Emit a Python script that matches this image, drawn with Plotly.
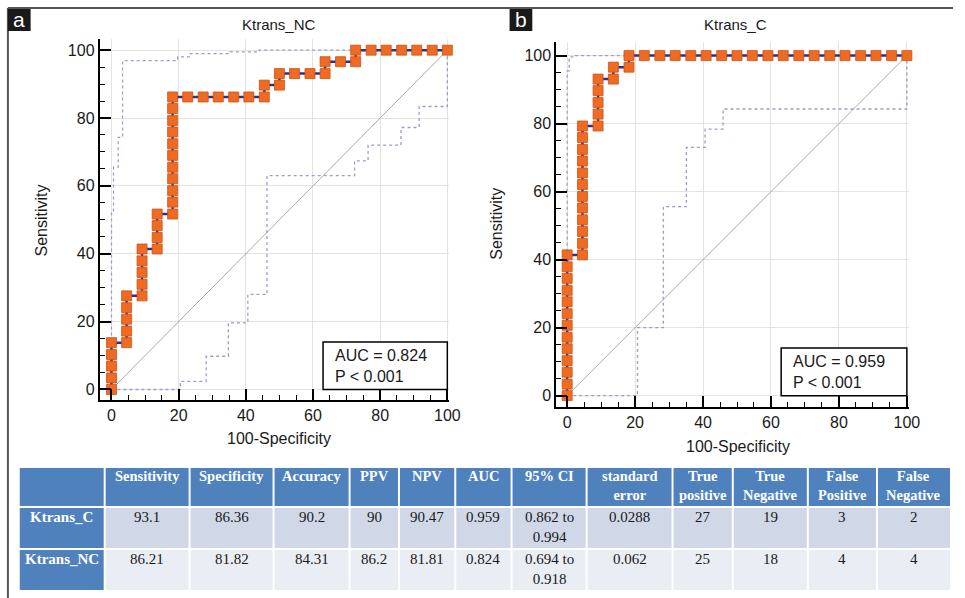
import plotly.graph_objects as go

W, H = 965, 598

# ---------------- Panel a: Ktrans_NC ----------------
nc_fpr = [0, 0, 0, 0, 0,
          4.5, 4.5, 4.5, 4.5, 4.5,
          9.1, 9.1, 9.1, 9.1, 9.1,
          13.6, 13.6, 13.6, 13.6,
          18.2, 18.2, 18.2, 18.2, 18.2, 18.2, 18.2, 18.2, 18.2, 18.2, 18.2,
          22.7, 27.3, 31.8, 36.4, 40.9, 45.5,
          45.5, 50.0,
          50.0, 54.5, 59.1, 63.6,
          63.6, 68.2, 72.7,
          72.7, 77.3, 81.8, 86.4, 90.9, 95.5, 100]
nc_tpr = [0, 3.4, 6.9, 10.3, 13.8,
          13.8, 17.2, 20.7, 24.1, 27.6,
          27.6, 31.0, 34.5, 37.9, 41.4,
          41.4, 44.8, 48.3, 51.7,
          51.7, 55.2, 58.6, 62.1, 65.5, 69.0, 72.4, 75.9, 79.3, 82.8, 86.2,
          86.2, 86.2, 86.2, 86.2, 86.2, 86.2,
          89.7, 89.7,
          93.1, 93.1, 93.1, 93.1,
          96.6, 96.6, 96.6,
          100, 100, 100, 100, 100, 100, 100]
nc_upper_x = [0, 0, 0.6, 0.6, 2.0, 2.0, 3.3, 3.3, 19.7, 19.7, 23.5, 23.5, 35.3, 35.3, 44.0, 44.0, 100]
nc_upper_y = [0, 52.2, 52.2, 65.5, 65.5, 74.3, 74.3, 96.9, 96.9, 98.0, 98.0, 99.0, 99.0, 99.5, 99.5, 100, 100]
nc_lower_x = [0, 20.5, 20.5, 28.2, 28.2, 34.8, 34.8, 40.6, 40.6, 46.3, 46.3, 72.4, 72.4, 76.4, 76.4, 86.2, 86.2, 91.6, 91.6, 100, 100]
nc_lower_y = [0, 0, 2.4, 2.4, 9.8, 9.8, 19.6, 19.6, 28.0, 28.0, 63.0, 63.0, 67.4, 67.4, 72.0, 72.0, 77.2, 77.2, 83.4, 83.4, 100]

# ---------------- Panel b: Ktrans_C ----------------
c_fpr = [0, 0, 0, 0, 0, 0, 0, 0, 0, 0, 0, 0, 0,
         4.5, 4.5, 4.5, 4.5, 4.5, 4.5, 4.5, 4.5, 4.5, 4.5, 4.5, 4.5,
         9.1, 9.1, 9.1, 9.1, 9.1,
         13.6, 13.6,
         18.2, 18.2,
         22.7, 27.3, 31.8, 36.4, 40.9, 45.5, 50.0, 54.5, 59.1, 63.6, 68.2, 72.7, 77.3, 81.8, 86.4, 90.9, 95.5, 100]
c_tpr = [0, 3.4, 6.9, 10.3, 13.8, 17.2, 20.7, 24.1, 27.6, 31.0, 34.5, 37.9, 41.4,
         41.4, 44.8, 48.3, 51.7, 55.2, 58.6, 62.1, 65.5, 69.0, 72.4, 75.9, 79.3,
         79.3, 82.8, 86.2, 89.7, 93.1,
         93.1, 96.6,
         96.6, 100,
         100, 100, 100, 100, 100, 100, 100, 100, 100, 100, 100, 100, 100, 100, 100, 100, 100, 100]
c_upper_x = [0, 0, 0.6, 0.6, 2.5, 2.5, 100]
c_upper_y = [0, 95.5, 95.5, 99.6, 99.6, 100, 100]
c_lower_x = [0, 20.7, 20.7, 28.3, 28.3, 35.1, 35.1, 40.6, 40.6, 45.9, 45.9, 100, 100]
c_lower_y = [0, 0, 20.0, 20.0, 55.6, 55.6, 73.0, 73.0, 78.4, 78.4, 84.3, 84.3, 100]

diag = [0, 100]

# ---------------- Table ----------------
row_names = ["Ktrans_C", "Ktrans_NC"]
col_headers = ["", "Sensitivity", "Specificity", "Accuracy", "PPV", "NPV", "AUC", "95% CI",
               "standard<br>error", "True<br>positive", "True<br>Negative", "False<br>Positive", "False<br>Negative"]
sensitivity = ["93.1", "86.21"]
specificity = ["86.36", "81.82"]
accuracy = ["90.2", "84.31"]
ppv = ["90", "86.2"]
npv = ["90.47", "81.81"]
auc = ["0.959", "0.824"]
ci95 = ["0.862 to<br>0.994", "0.694 to<br>0.918"]
std_err = ["0.0288", "0.062"]
true_pos = ["27", "25"]
true_neg = ["19", "18"]
false_pos = ["3", "4"]
false_neg = ["2", "4"]
p_value = "P < 0.001"

NAVY = "#2E2E8A"
ORANGE = "#F06A22"
CI_COL = "#9A9DCB"
GRID = "#E3E3E3"


def px_x(p):
    return p / W


def px_y(p):
    return 1 - p / H


fig = go.Figure()


def add_panel(fpr, tpr, ux, uy, lx, ly, xa, ya):
    fig.add_trace(go.Scatter(x=diag, y=diag, mode="lines", line=dict(color="#A8A8A8", width=1),
                             xaxis=xa, yaxis=ya, hoverinfo="skip", showlegend=False))
    fig.add_trace(go.Scatter(x=ux, y=uy, mode="lines", line=dict(color=CI_COL, width=1.3, dash="dot"),
                             xaxis=xa, yaxis=ya, showlegend=False, cliponaxis=False))
    fig.add_trace(go.Scatter(x=lx, y=ly, mode="lines", line=dict(color=CI_COL, width=1.3, dash="dot"),
                             xaxis=xa, yaxis=ya, showlegend=False, cliponaxis=False))
    fig.add_trace(go.Scatter(x=fpr, y=tpr, mode="lines+markers",
                             line=dict(color=NAVY, width=2.5),
                             marker=dict(symbol="square", size=10, color=ORANGE,
                                         line=dict(color="#C8541C", width=0.8)),
                             xaxis=xa, yaxis=ya, showlegend=False, cliponaxis=False))


add_panel(nc_fpr, nc_tpr, nc_upper_x, nc_upper_y, nc_lower_x, nc_lower_y, "x", "y")
add_panel(c_fpr, c_tpr, c_upper_x, c_upper_y, c_lower_x, c_lower_y, "x2", "y2")

axis_common = dict(
    showline=True, linecolor="black", linewidth=2, mirror=False,
    ticks="inside", ticklen=11, tickwidth=2, tickcolor="black",
    tickmode="linear", tick0=0, dtick=20,
    showgrid=True, gridcolor=GRID, gridwidth=1, zeroline=False,
    tickfont=dict(family="Liberation Sans", size=16, color="#1a1a1a"),
    minor=dict(ticks="inside", ticklen=5, tickwidth=1, tickcolor="black", dtick=5, tick0=0, showgrid=False),
    fixedrange=True,
)

fig.update_layout(
    width=W, height=H, autosize=False,
    margin=dict(l=0, r=0, t=0, b=0),
    paper_bgcolor="white", plot_bgcolor="white",
    showlegend=False,
    xaxis=dict(axis_common, domain=[px_x(101), px_x(455)], range=[-3.5, 100.6], anchor="y"),
    yaxis=dict(axis_common, domain=[px_y(400), px_y(39.3)], range=[-3.1, 103.2], anchor="x"),
    xaxis2=dict(axis_common, domain=[px_x(563.3), px_x(920)], range=[-3.2, 100.5], anchor="y2"),
    yaxis2=dict(axis_common, domain=[px_y(406.7), px_y(42)], range=[-3.24, 104.0], anchor="x2"),
)

shapes = [
    # outer frame (top and left)
    dict(type="line", xref="paper", yref="paper", x0=px_x(8), x1=1, y0=px_y(8), y1=px_y(8),
         line=dict(color="#555555", width=2)),
    dict(type="line", xref="paper", yref="paper", x0=px_x(8), x1=px_x(8), y0=px_y(8), y1=0,
         line=dict(color="#555555", width=2)),
    # panel label boxes
    dict(type="rect", xref="paper", yref="paper", x0=px_x(8), x1=px_x(31), y0=px_y(31), y1=px_y(9),
         fillcolor="#1a1a1a", line=dict(width=0)),
    dict(type="rect", xref="paper", yref="paper", x0=px_x(516), x1=px_x(539), y0=px_y(31), y1=px_y(9),
         fillcolor="#1a1a1a", line=dict(width=0)),
    # AUC boxes
    dict(type="rect", xref="x", yref="y", x0=63, x1=100, y0=0, y1=14,
         fillcolor="white", line=dict(color="black", width=1.5)),
    dict(type="rect", xref="x2", yref="y2", x0=63, x1=100, y0=0, y1=14,
         fillcolor="white", line=dict(color="black", width=1.5)),
]

SANS = "Liberation Sans"
SERIF = "Liberation Serif"
ann = []


def text(x, y, s, size, color="#1a1a1a", family=SANS, xanchor="center", yanchor="middle", **kw):
    d = dict(xref="paper", yref="paper", x=px_x(x), y=px_y(y), text=s, showarrow=False,
             xanchor=xanchor, yanchor=yanchor,
             font=dict(family=family, size=size, color=color))
    d.update(kw)
    ann.append(d)


text(283, 25, "Ktrans_NC", 15)
text(745, 25, "Ktrans_C", 15)
text(283, 438, "100-Specificity", 16)
text(747, 447, "100-Specificity", 16)
text(42, 220, "Sensitivity", 16, textangle=-90)
text(503, 224, "Sensitivity", 16, textangle=-90)
text(19.5, 19.5, "a", 21, color="white")
text(527.5, 19.5, "b", 21, color="white")
text(337, 365.5, "AUC = " + auc[1] + "<br>" + p_value, 16, xanchor="left", align="left")
text(801, 372, "AUC = " + auc[0] + "<br>" + p_value, 16, xanchor="left", align="left")

# ---- manual table (shapes + annotations) ----
cols_values = [
    ["<b>" + r + "</b>" for r in row_names],
    sensitivity, specificity, accuracy, ppv, npv, auc, ci95, std_err,
    true_pos, true_neg, false_pos, false_neg,
]
col_widths = [87, 86, 85, 77, 50, 57, 57, 76, 87, 61, 76, 70, 75]
BLUE = "#4F81BD"
ROW_FILLS = ["#D0D8E8", "#E9EDF4"]
row_bounds = [(467, 507), (507, 549), (549, 591)]
left = 19
for j, w in enumerate(col_widths):
    x0, x1 = left, left + w
    cx = (x0 + x1) / 2
    ht, hb = row_bounds[0]
    shapes.append(dict(type="rect", xref="paper", yref="paper", x0=px_x(x0 + 1), x1=px_x(x1 - 1),
                       y0=px_y(hb - 1), y1=px_y(ht + 1), fillcolor=BLUE, line=dict(width=0), layer="below"))
    if col_headers[j]:
        text(cx, ht - 1.5, "<b>" + col_headers[j] + "</b>", 14.5, color="white", family=SERIF, yanchor="top")
    for i in range(2):
        rt, rb = row_bounds[i + 1]
        fill = BLUE if j == 0 else ROW_FILLS[i]
        shapes.append(dict(type="rect", xref="paper", yref="paper", x0=px_x(x0 + 1), x1=px_x(x1 - 1),
                           y0=px_y(rb - 1), y1=px_y(rt + 1), fillcolor=fill, line=dict(width=0), layer="below"))
        col = "white" if j == 0 else "#1a1a1a"
        text(cx, rt - 0.5, cols_values[j][i], 15, color=col, family=SERIF, yanchor="top")
    left = x1

fig.update_layout(shapes=shapes, annotations=ann)

fig.write_html(
    "out.html",
    config={"displayModeBar": False, "responsive": False},
    post_script=(
        "var mv=document.createElement('meta');mv.name='viewport';"
        "mv.content='width=device-width, initial-scale=1';document.head.appendChild(mv);"
        "document.documentElement.style.overflow='hidden';"
        "document.documentElement.style.margin='0';"
        "document.body.style.margin='0';"
        "document.body.style.padding='0';"
        "document.body.style.overflow='hidden';"
    ),
)
